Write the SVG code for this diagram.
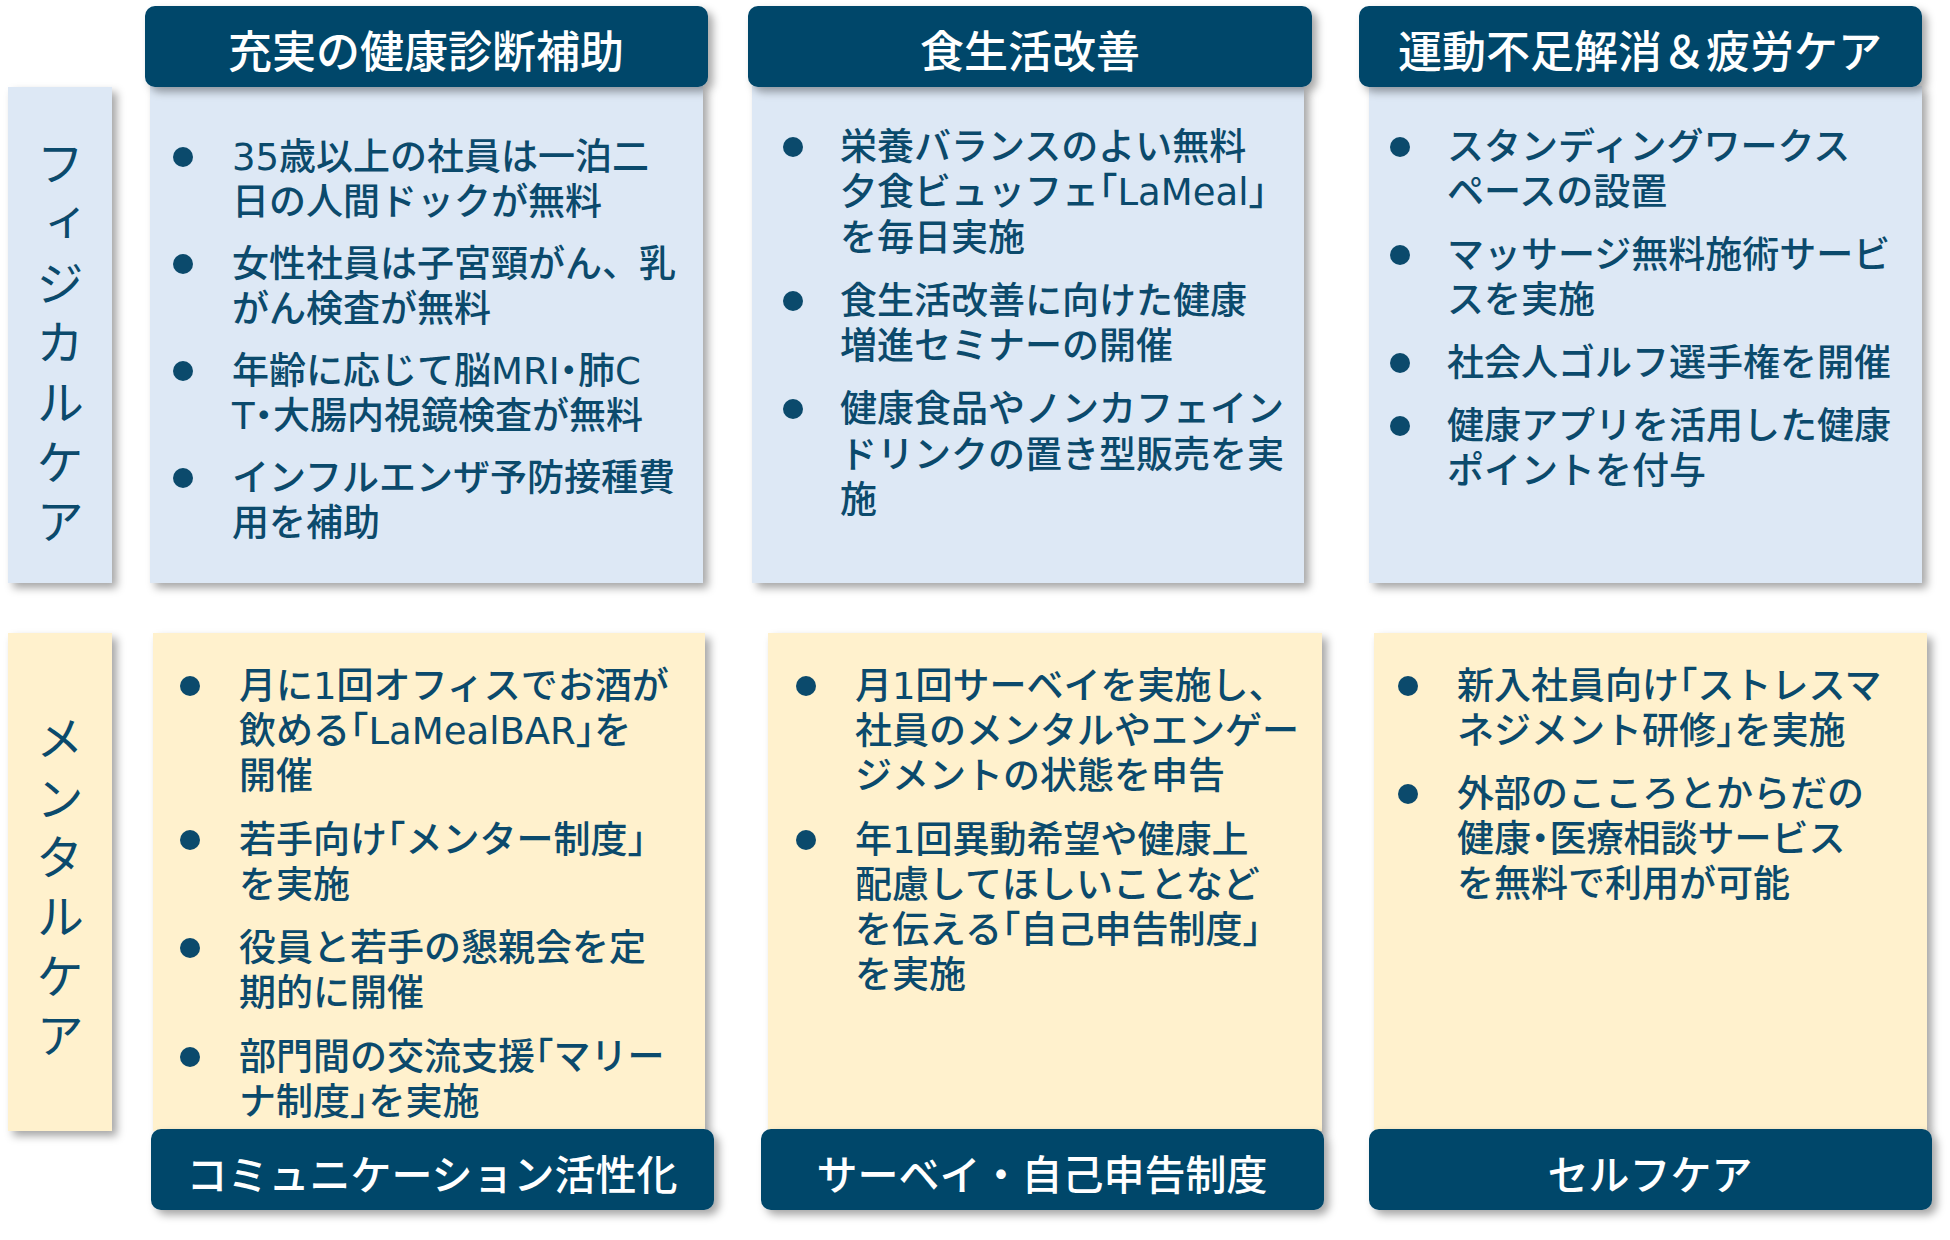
<svg xmlns="http://www.w3.org/2000/svg" width="1950" height="1240" viewBox="0 0 1950 1240">
<defs>
<filter id="sh" x="-10%" y="-10%" width="130%" height="130%">
<feDropShadow dx="5" dy="5" stdDeviation="4" flood-color="#000" flood-opacity="0.35"/>
</filter>
<style>
.hd{fill:#03466a;filter:url(#sh)}
.pb{fill:#dde8f5;filter:url(#sh)}
.mb{fill:#fff1cd;filter:url(#sh)}
.ht{font-family:"Noto Sans CJK JP","Noto Sans",sans-serif;font-size:44px;font-weight:500;fill:#fff;text-anchor:middle}
.bt{font-family:"Noto Sans CJK JP","Noto Sans",sans-serif;font-size:41px;font-weight:500;fill:#fff;text-anchor:middle}
.lt{font-family:"Noto Sans CJK JP","Noto Sans",sans-serif;font-size:48px;font-weight:400;fill:#0b4a6c;writing-mode:vertical-rl;text-orientation:upright}
.tx{font-family:"DejaVu Sans","Noto Sans CJK JP",sans-serif;font-size:37px;font-weight:500;fill:#0b4a6c}
.h{font-feature-settings:"halt"}
.dot{fill:#0b4a6c}
</style>
</defs>
<rect width="1950" height="1240" fill="#fff"/>

<g id="label-physical">
<rect class="pb" x="8" y="87" width="104" height="496"/>
<text class="lt" x="60" y="139" letter-spacing="11.7">フィジカルケア</text>
</g>

<g id="label-mental">
<rect class="mb" x="8" y="633" width="104" height="498"/>
<text class="lt" x="60" y="714" letter-spacing="11.4">メンタルケア</text>
</g>

<g id="physical-1">
<rect class="pb" x="150" y="86" width="553" height="497"/>
<rect class="hd" x="145" y="6" width="563" height="81" rx="10"/>
<text class="ht" x="426" y="68">充実の健康診断補助</text>
<circle class="dot" cx="183" cy="157" r="10"/>
<circle class="dot" cx="183" cy="264" r="10"/>
<circle class="dot" cx="183" cy="371" r="10"/>
<circle class="dot" cx="183" cy="478" r="10"/>
<text class="tx" x="232" y="170"><tspan x="232">35歳以上の社員は一泊二</tspan><tspan x="232" dy="45">日の人間ドックが無料</tspan></text>
<text class="tx" x="232" y="277"><tspan x="232">女性社員は子宮頸がん、乳</tspan><tspan x="232" dy="45">がん検査が無料</tspan></text>
<text class="tx" x="232" y="384"><tspan x="232">年齢に応じて脳MRI<tspan class="h">・</tspan>肺C</tspan><tspan x="232" dy="45">T<tspan class="h">・</tspan>大腸内視鏡検査が無料</tspan></text>
<text class="tx" x="232" y="491"><tspan x="232">インフルエンザ予防接種費</tspan><tspan x="232" dy="45">用を補助</tspan></text>
</g>

<g id="physical-2">
<rect class="pb" x="752" y="86" width="552" height="497"/>
<rect class="hd" x="748" y="6" width="564" height="81" rx="10"/>
<text class="ht" x="1030" y="68">食生活改善</text>
<circle class="dot" cx="793" cy="147" r="10"/>
<circle class="dot" cx="793" cy="301" r="10"/>
<circle class="dot" cx="793" cy="409" r="10"/>
<text class="tx" x="840" y="160"><tspan x="840">栄養バランスのよい無料</tspan><tspan x="840" dy="45">夕食ビュッフェ<tspan class="h">「</tspan>LaMeal<tspan class="h">」</tspan></tspan><tspan x="840" dy="46">を毎日実施</tspan></text>
<text class="tx" x="840" y="314"><tspan x="840">食生活改善に向けた健康</tspan><tspan x="840" dy="45">増進セミナーの開催</tspan></text>
<text class="tx" x="840" y="422"><tspan x="840">健康食品やノンカフェイン</tspan><tspan x="840" dy="46">ドリンクの置き型販売を実</tspan><tspan x="840" dy="45">施</tspan></text>
</g>

<g id="physical-3">
<rect class="pb" x="1369" y="86" width="553" height="497"/>
<rect class="hd" x="1359" y="6" width="563" height="81" rx="10"/>
<text class="ht" x="1640" y="68">運動不足解消＆疲労ケア</text>
<circle class="dot" cx="1400" cy="147" r="10"/>
<circle class="dot" cx="1400" cy="255" r="10"/>
<circle class="dot" cx="1400" cy="363" r="10"/>
<circle class="dot" cx="1400" cy="426" r="10"/>
<text class="tx" x="1447" y="160"><tspan x="1447">スタンディングワークス</tspan><tspan x="1447" dy="45">ペースの設置</tspan></text>
<text class="tx" x="1447" y="268"><tspan x="1447">マッサージ無料施術サービ</tspan><tspan x="1447" dy="45">スを実施</tspan></text>
<text class="tx" x="1447" y="376">社会人ゴルフ選手権を開催</text>
<text class="tx" x="1447" y="439"><tspan x="1447">健康アプリを活用した健康</tspan><tspan x="1447" dy="45">ポイントを付与</tspan></text>
</g>

<g id="mental-1">
<rect class="mb" x="153" y="633" width="552" height="498"/>
<rect class="hd" x="151" y="1129" width="563" height="81" rx="10"/>
<text class="bt" x="432" y="1190">コミュニケーション活性化</text>
<circle class="dot" cx="190" cy="686" r="10"/>
<circle class="dot" cx="190" cy="840" r="10"/>
<circle class="dot" cx="190" cy="948" r="10"/>
<circle class="dot" cx="190" cy="1057" r="10"/>
<text class="tx" x="239" y="699"><tspan x="239">月に1回オフィスでお酒が</tspan><tspan x="239" dy="45">飲める<tspan class="h">「</tspan>LaMealBAR<tspan class="h">」</tspan>を</tspan><tspan x="239" dy="45">開催</tspan></text>
<text class="tx" x="239" y="853"><tspan x="239">若手向け<tspan class="h">「</tspan>メンター制度<tspan class="h">」</tspan></tspan><tspan x="239" dy="45">を実施</tspan></text>
<text class="tx" x="239" y="961"><tspan x="239">役員と若手の懇親会を定</tspan><tspan x="239" dy="45">期的に開催</tspan></text>
<text class="tx" x="239" y="1070"><tspan x="239">部門間の交流支援<tspan class="h">「</tspan>マリー</tspan><tspan x="239" dy="45">ナ制度<tspan class="h">」</tspan>を実施</tspan></text>
</g>

<g id="mental-2">
<rect class="mb" x="768" y="633" width="554" height="498"/>
<rect class="hd" x="761" y="1129" width="563" height="81" rx="10"/>
<text class="bt" x="1042" y="1190">サーベイ・自己申告制度</text>
<circle class="dot" cx="806" cy="686" r="10"/>
<circle class="dot" cx="806" cy="840" r="10"/>
<text class="tx" x="855" y="699"><tspan x="855">月1回サーベイを実施し、</tspan><tspan x="855" dy="45">社員のメンタルやエンゲー</tspan><tspan x="855" dy="45">ジメントの状態を申告</tspan></text>
<text class="tx" x="855" y="853"><tspan x="855">年1回異動希望や健康上</tspan><tspan x="855" dy="45">配慮してほしいことなど</tspan><tspan x="855" dy="45">を伝える<tspan class="h">「</tspan>自己申告制度<tspan class="h">」</tspan></tspan><tspan x="855" dy="45">を実施</tspan></text>
</g>

<g id="mental-3">
<rect class="mb" x="1374" y="633" width="553" height="498"/>
<rect class="hd" x="1369" y="1129" width="563" height="81" rx="10"/>
<text class="bt" x="1650" y="1190">セルフケア</text>
<circle class="dot" cx="1408" cy="686" r="10"/>
<circle class="dot" cx="1408" cy="794" r="10"/>
<text class="tx" x="1457" y="699"><tspan x="1457">新入社員向け<tspan class="h">「</tspan>ストレスマ</tspan><tspan x="1457" dy="45">ネジメント研修<tspan class="h">」</tspan>を実施</tspan></text>
<text class="tx" x="1457" y="807"><tspan x="1457">外部のこころとからだの</tspan><tspan x="1457" dy="45">健康<tspan class="h">・</tspan>医療相談サービス</tspan><tspan x="1457" dy="45">を無料で利用が可能</tspan></text>
</g>

<g id="connectors"></g>
</svg>
